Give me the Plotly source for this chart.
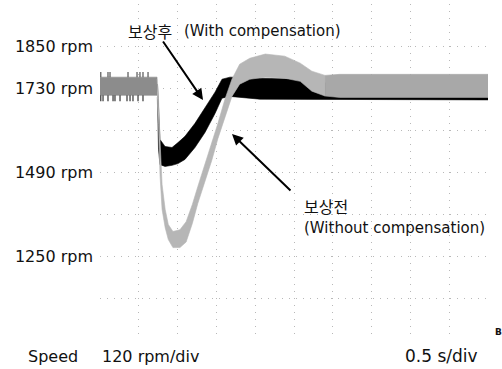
import plotly.graph_objects as go

# ---- speed traces (time in s, speed in rpm) ----
# steady running before the load step: both traces overlap
pre_time = [0.0, 0.735]
pre_upper = [1761, 1761]
pre_lower = [1709, 1709]

# noise spikes on the pre-step band
spike_up_time = [0.01, 0.103, 0.129, 0.361, 0.477, 0.515, 0.554, 0.619]
spike_dn_time = [0.01, 0.039, 0.103, 0.168, 0.193, 0.258, 0.348, 0.387, 0.425, 0.490, 0.554]
spike_up = [1761, 1776]
spike_dn = [1709, 1692]

# with compensation (black)
comp_time = [0.741, 0.754, 0.773, 0.838, 0.928, 1.005, 1.095, 1.224, 1.353, 1.482,
             1.572, 1.675, 2.062, 2.577, 2.732, 5.0]
comp_upper = [1741, 1669, 1583, 1563, 1560, 1574, 1592, 1629, 1675, 1718,
              1755, 1761, 1758, 1755, 1744, 1749]
comp_lower = [1698, 1555, 1511, 1506, 1509, 1514, 1526, 1560, 1603, 1657,
              1701, 1706, 1698, 1698, 1696, 1696]

# without compensation (grey)
raw_time = [0.735, 0.754, 0.773, 0.80, 0.84, 0.88, 0.94, 1.03, 1.11, 1.19, 1.26, 1.35,
            1.44, 1.52, 1.61, 1.70, 1.80, 1.93, 2.13, 2.38, 2.58, 2.73, 2.90, 3.09, 5.0]
raw_upper = [1755, 1698, 1583, 1454, 1383, 1340, 1320, 1325, 1348, 1397, 1448, 1509,
             1572, 1629, 1698, 1755, 1798, 1815, 1827, 1821, 1801, 1778, 1766, 1769, 1769]
raw_lower = [1704, 1626, 1483, 1383, 1331, 1297, 1274, 1274, 1290, 1343, 1400, 1460,
             1523, 1586, 1649, 1706, 1741, 1755, 1761, 1758, 1749, 1721, 1707, 1703, 1703]
raw_settle_index = 22  # from here on the grey trace has settled

# scope graticule
time_grid = [0.0, 0.5, 1.0, 1.5, 2.0, 2.5, 3.0, 3.5, 4.0, 4.5, 5.0]
speed_grid = [1010, 1130, 1250, 1370, 1490, 1610, 1730, 1850, 1970]
speed_labels = ["", "", "1250 rpm", "", "1490 rpm", "", "1730 rpm", "1850 rpm", ""]

fig = go.Figure()


def add_band(t, upper, lower, color):
    fig.add_trace(go.Scatter(
        x=t + t[::-1], y=upper + lower[::-1],
        mode="lines", fill="toself", fillcolor=color,
        line=dict(color=color, width=0.6),
        hoverinfo="skip", showlegend=False))


def add_spikes(times, span, color):
    xs, ys = [], []
    for t in times:
        xs += [t, t, None]
        ys += [span[0], span[1], None]
    fig.add_trace(go.Scatter(x=xs, y=ys, mode="lines",
                             line=dict(color=color, width=1.2),
                             hoverinfo="skip", showlegend=False))


add_band(pre_time, pre_upper, pre_lower, "#8c8c8c")
add_spikes(spike_up_time, spike_up, "#555555")
add_spikes(spike_dn_time, spike_dn, "#333333")
add_band(comp_time, comp_upper, comp_lower, "#000000")
k = raw_settle_index
add_band(raw_time[:k + 1], raw_upper[:k + 1], raw_lower[:k + 1], "#b6b6b6")
add_band(raw_time[k:], raw_upper[k:], raw_lower[k:], "#a8a8a8")

grid = dict(showgrid=True, gridcolor="#b8b8b8", griddash="1px,6px", gridwidth=1,
            zeroline=False, showline=False, ticks="")

fig.update_layout(
    width=502, height=369,
    margin=dict(l=100, r=14, t=4, b=29),
    paper_bgcolor="white", plot_bgcolor="white",
    showlegend=False,
    xaxis=dict(range=[0, 5], tickvals=time_grid, showticklabels=False, **grid),
    yaxis=dict(range=[1010, 1970], tickvals=speed_grid, ticktext=speed_labels,
               tickfont=dict(family="DejaVu Sans", size=16, color="#111"),
               ticklabelstandoff=6, **grid),
)

latin = dict(family="DejaVu Sans", color="#111")
hangul = dict(family="Noto Sans CJK KR", color="#111")

notes = [
    dict(text="보상후", x=0.129, y=0.920, xanchor="center", font=dict(size=16, **hangul)),
    dict(text="(With compensation)", x=0.211, y=0.920, xanchor="left", font=dict(size=15, **latin)),
    dict(text="보상전", x=0.521, y=0.399, xanchor="left", font=dict(size=16, **hangul)),
    dict(text="(Without compensation)", x=0.521, y=0.333, xanchor="left", font=dict(size=15, **latin)),
    dict(text="Speed", x=-0.121, y=-0.048, xanchor="center", font=dict(size=16, **latin)),
    dict(text="120 rpm/div", x=0.129, y=-0.048, xanchor="center", font=dict(size=16, **latin)),
    dict(text="0.5 s/div", x=0.979, y=-0.048, xanchor="right", font=dict(size=17, **latin)),
    dict(text="<b>B</b>", x=1.013, y=0.024, xanchor="left", font=dict(size=9, **latin)),
]
for n in notes:
    fig.add_annotation(xref="paper", yref="paper", yanchor="middle", showarrow=False, **n)

# pointer arrows to each trace
arrows = [
    dict(x=0.2655, y=0.7143, ax=-41, ay=-60),
    dict(x=0.3402, y=0.6131, ax=60, ay=58),
]
for a in arrows:
    fig.add_annotation(xref="paper", yref="paper", text="", showarrow=True,
                       arrowhead=2, arrowsize=1.1, arrowwidth=2, arrowcolor="#000",
                       standoff=0, **a)

fig.write_html("out.html")
